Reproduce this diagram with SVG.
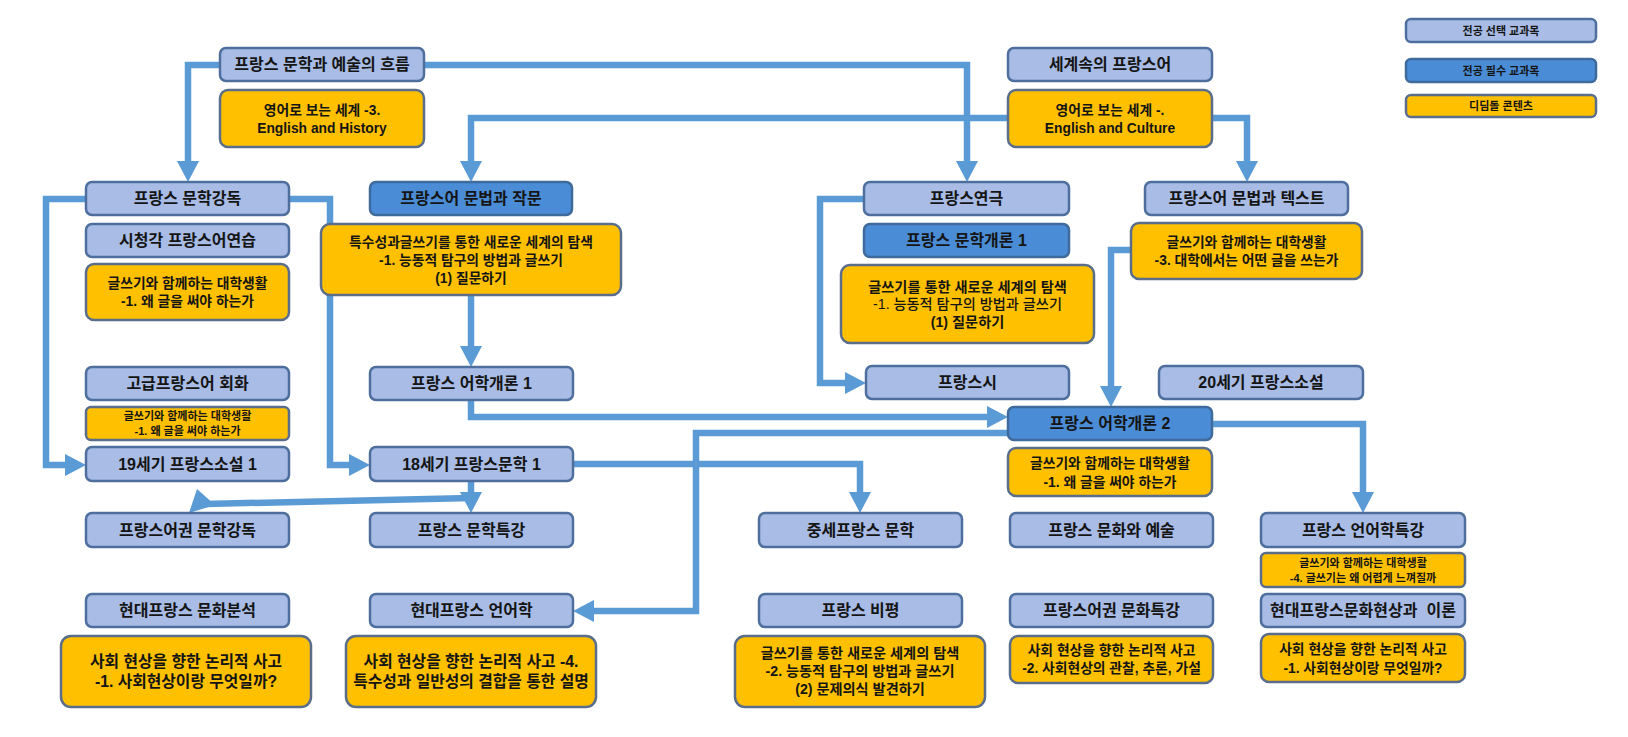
<svg xmlns="http://www.w3.org/2000/svg" width="1628" height="737" viewBox="0 0 1628 737">
<style>
.lt{fill:#A8BCE5;stroke:#4E6F9E;stroke-width:2.5}
.dk{fill:#4A8DD6;stroke:#3F6A9C;stroke-width:2.5}
.yl{fill:#FFC000;stroke:#5A6E8C;stroke-width:2.5}
.c{fill:none;stroke:#5B9BD5;stroke-width:6.5;marker-end:url(#ah)}
.cn{fill:none;stroke:#5B9BD5;stroke-width:6.5}
text{font-family:"Liberation Sans","Noto Sans CJK KR",sans-serif;font-weight:bold;fill:#151515;text-anchor:middle;dominant-baseline:central}
.t{font-size:16px}
.y{font-size:13.8px}
.m{font-size:14.2px}
.b{font-size:15.8px}
.s{font-size:11px}
.g{font-size:11px}
</style>
<defs>
<marker id="ah" viewBox="0 -11 21 22" refX="0" refY="0" markerWidth="21" markerHeight="22" markerUnits="userSpaceOnUse" orient="auto"><path d="M0,-11 L21,0 L0,11 Z" fill="#5B9BD5"/></marker>
</defs>
<rect width="1628" height="737" fill="#FFFFFF"/>
<g id="connectors">
<path class="c" d="M220,65 H188 V161"/>
<path class="c" d="M424,65 H967 V161"/>
<path class="c" d="M1008,118 H471 V161"/>
<path class="c" d="M1212,118 H1247 V161"/>
<path class="c" d="M86,199 H46 V465 H65"/>
<path class="c" d="M289,199 H330 V465 H349"/>
<path class="c" d="M471,295 V346"/>
<path class="c" d="M471,400 V417 H987"/>
<path class="c" d="M471,481 V492"/>
<path class="cn" d="M471,498 L205,504"/>
<polygon points="189,513 197,489 215,505" fill="#5B9BD5"/>
<path class="c" d="M573,464 H860 V492"/>
<path class="c" d="M864,199 H820 V383 H845"/>
<path class="c" d="M1131,250 H1111 V386"/>
<path class="c" d="M1008,433 H696 V611 H594"/>
<path class="c" d="M1212,424 H1363 V492"/>
</g>
<g id="legend-elective"><rect class="lt" x="1406" y="19" width="190" height="23" rx="5"/><text class="g" x="1501" y="30.5">전공 선택 교과목</text></g>
<g id="legend-required"><rect class="dk" x="1406" y="59" width="190" height="23" rx="5"/><text class="g" x="1501" y="70.5">전공 필수 교과목</text></g>
<g id="legend-content"><rect class="yl" x="1406" y="95" width="190" height="22" rx="5"/><text class="g" x="1501" y="106">디딤돌 콘텐츠</text></g>

<g id="n-flow"><rect class="lt" x="220" y="48" width="204" height="33" rx="6"/><text class="t" x="322" y="64.5">프랑스 문학과 예술의 흐름</text></g>
<g id="y-history"><rect class="yl" x="220" y="90" width="204" height="57" rx="8"/><text class="y" x="322" y="110">영어로 보는 세계 -3.</text><text class="y" x="322" y="128">English and History</text></g>
<g id="n-world"><rect class="lt" x="1008" y="48" width="204" height="33" rx="6"/><text class="t" x="1110" y="64.5">세계속의 프랑스어</text></g>
<g id="y-culture"><rect class="yl" x="1008" y="90" width="204" height="57" rx="8"/><text class="y" x="1110" y="110">영어로 보는 세계 -.</text><text class="y" x="1110" y="128">English and Culture</text></g>

<g id="n-litread"><rect class="lt" x="86" y="182" width="203" height="33" rx="6"/><text class="t" x="187.5" y="198.5">프랑스 문학강독</text></g>
<g id="n-av"><rect class="lt" x="86" y="224" width="203" height="33" rx="6"/><text class="t" x="187.5" y="240.5">시청각 프랑스어연습</text></g>
<g id="y-why1"><rect class="yl" x="86" y="264" width="203" height="56" rx="8"/><text class="y" x="187.5" y="283">글쓰기와 함께하는 대학생활</text><text class="y" x="187.5" y="301">-1. 왜 글을 써야 하는가</text></g>
<g id="n-grammar"><rect class="dk" x="370" y="182" width="202" height="33" rx="6"/><text class="t" x="471" y="198.5">프랑스어 문법과 작문</text></g>
<g id="y-special"><rect class="yl" x="321" y="224" width="300" height="71" rx="9"/><text class="y" x="471" y="242">특수성과글쓰기를 통한 새로운 세계의 탐색</text><text class="y" x="471" y="260">-1. 능동적 탐구의 방법과 글쓰기</text><text class="y" x="471" y="278">(1) 질문하기</text></g>
<g id="n-theatre"><rect class="lt" x="864" y="182" width="205" height="33" rx="6"/><text class="t" x="966.5" y="198.5">프랑스연극</text></g>
<g id="n-litintro1"><rect class="dk" x="864" y="224" width="205" height="33" rx="6"/><text class="t" x="966.5" y="240.5">프랑스 문학개론 1</text></g>
<g id="y-explore1"><rect class="yl" x="841" y="265" width="253" height="78" rx="9"/><text class="m" x="967.5" y="287">글쓰기를 통한 새로운 세계의 탐색</text><text class="m" x="967.5" y="304" style="font-weight:500">-1. 능동적 탐구의 방법과 글쓰기</text><text class="m" x="967.5" y="322">(1) 질문하기</text></g>
<g id="n-grammartext"><rect class="lt" x="1145" y="182" width="203" height="33" rx="6"/><text class="t" x="1246.5" y="198.5">프랑스어 문법과 텍스트</text></g>
<g id="y-what3"><rect class="yl" x="1131" y="223" width="231" height="56" rx="8"/><text class="y" x="1246.5" y="242">글쓰기와 함께하는 대학생활</text><text class="y" x="1246.5" y="260">-3. 대학에서는 어떤 글을 쓰는가</text></g>

<g id="n-conv"><rect class="lt" x="86" y="367" width="203" height="33" rx="6"/><text class="t" x="187.5" y="383.5">고급프랑스어 회화</text></g>
<g id="y-why1b"><rect class="yl" x="86" y="407" width="203" height="33" rx="5"/><text class="s" x="187.5" y="416">글쓰기와 함께하는 대학생활</text><text class="s" x="187.5" y="431">-1. 왜 글을 써야 하는가</text></g>
<g id="n-novel19"><rect class="lt" x="86" y="447" width="203" height="34" rx="6"/><text class="t" x="187.5" y="464">19세기 프랑스소설 1</text></g>
<g id="n-ling1"><rect class="lt" x="370" y="367" width="203" height="33" rx="6"/><text class="t" x="471.5" y="383.5">프랑스 어학개론 1</text></g>
<g id="n-lit18"><rect class="lt" x="370" y="447" width="203" height="34" rx="6"/><text class="t" x="471.5" y="464">18세기 프랑스문학 1</text></g>
<g id="n-poetry"><rect class="lt" x="866" y="366" width="203" height="33" rx="6"/><text class="t" x="967.5" y="382.5">프랑스시</text></g>
<g id="n-novel20"><rect class="lt" x="1159" y="366" width="204" height="33" rx="6"/><text class="t" x="1261" y="382.5">20세기 프랑스소설</text></g>
<g id="n-ling2"><rect class="dk" x="1008" y="407" width="204" height="33" rx="6"/><text class="t" x="1110" y="423.5">프랑스 어학개론 2</text></g>
<g id="y-why1c"><rect class="yl" x="1008" y="448" width="204" height="48" rx="8"/><text class="y" x="1110" y="463">글쓰기와 함께하는 대학생활</text><text class="y" x="1110" y="482">-1. 왜 글을 써야 하는가</text></g>

<g id="n-francolit"><rect class="lt" x="86" y="513" width="203" height="34" rx="6"/><text class="t" x="187.5" y="530">프랑스어권 문학강독</text></g>
<g id="n-litspecial"><rect class="lt" x="370" y="513" width="203" height="34" rx="6"/><text class="t" x="471.5" y="530">프랑스 문학특강</text></g>
<g id="n-medieval"><rect class="lt" x="759" y="513" width="203" height="34" rx="6"/><text class="t" x="860.5" y="530">중세프랑스 문학</text></g>
<g id="n-culture-art"><rect class="lt" x="1010" y="513" width="203" height="34" rx="6"/><text class="t" x="1111.5" y="530">프랑스 문화와 예술</text></g>
<g id="n-lingspecial"><rect class="lt" x="1261" y="513" width="204" height="34" rx="6"/><text class="t" x="1363" y="530">프랑스 언어학특강</text></g>
<g id="y-hard4"><rect class="yl" x="1261" y="553" width="204" height="34" rx="5"/><text class="s" x="1363" y="562.5">글쓰기와 함께하는 대학생활</text><text class="s" x="1363" y="577.5">-4. 글쓰기는 왜 어렵게 느껴질까</text></g>

<g id="n-culanalysis"><rect class="lt" x="86" y="594" width="203" height="33" rx="6"/><text class="t" x="187.5" y="610.5">현대프랑스 문화분석</text></g>
<g id="n-modling"><rect class="lt" x="370" y="594" width="203" height="33" rx="6"/><text class="t" x="471.5" y="610.5">현대프랑스 언어학</text></g>
<g id="n-critique"><rect class="lt" x="759" y="594" width="203" height="33" rx="6"/><text class="t" x="860.5" y="610.5">프랑스 비평</text></g>
<g id="n-franccul"><rect class="lt" x="1010" y="594" width="203" height="33" rx="6"/><text class="t" x="1111.5" y="610.5">프랑스어권 문화특강</text></g>
<g id="n-modcul"><rect class="lt" x="1261" y="594" width="204" height="33" rx="6"/><text class="t" x="1363" y="610.5" xml:space="preserve" textLength="186" lengthAdjust="spacing">현대프랑스문화현상과  이론</text></g>

<g id="y-social1"><rect class="yl" x="61" y="636" width="250" height="71" rx="10"/><text class="b" x="186" y="661">사회 현상을 향한 논리적 사고</text><text class="b" x="186" y="681">-1. 사회현상이랑 무엇일까?</text></g>
<g id="y-social4"><rect class="yl" x="346" y="636" width="250" height="71" rx="10"/><text class="b" x="471" y="661">사회 현상을 향한 논리적 사고 -4.</text><text class="b" x="471" y="681">특수성과 일반성의 결합을 통한 설명</text></g>
<g id="y-explore2"><rect class="yl" x="735" y="636" width="250" height="71" rx="10"/><text class="m" x="860" y="653">글쓰기를 통한 새로운 세계의 탐색</text><text class="m" x="860" y="671">-2. 능동적 탐구의 방법과 글쓰기</text><text class="m" x="860" y="689">(2) 문제의식 발견하기</text></g>
<g id="y-social2"><rect class="yl" x="1010" y="636" width="203" height="47" rx="8"/><text class="y" x="1111.5" y="650">사회 현상을 향한 논리적 사고</text><text class="y" x="1111.5" y="668">-2. 사회현상의 관찰, 추론, 가설</text></g>
<g id="y-social1b"><rect class="yl" x="1261" y="634" width="204" height="48" rx="8"/><text class="y" x="1363" y="649">사회 현상을 향한 논리적 사고</text><text class="y" x="1363" y="668">-1. 사회현상이랑 무엇일까?</text></g>
</svg>
